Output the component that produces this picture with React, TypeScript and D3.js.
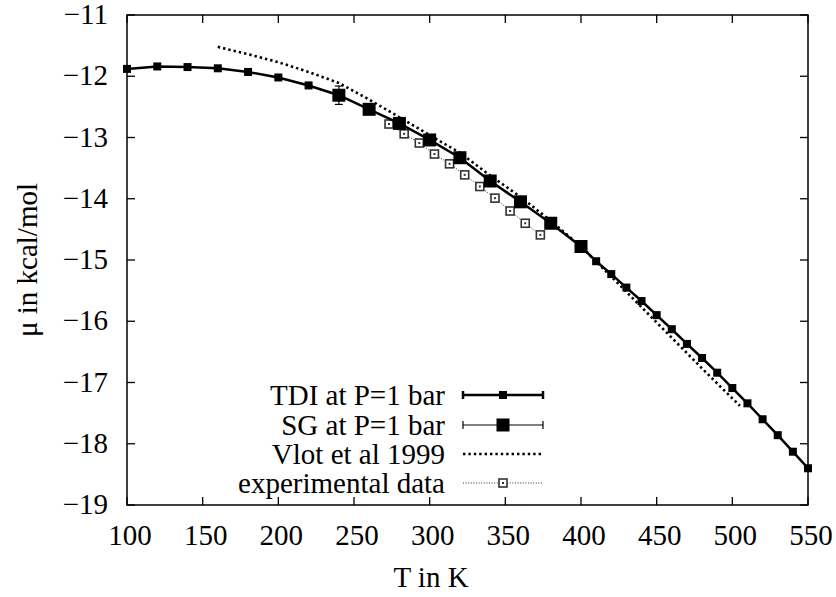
import React from "react";
import * as d3 from "d3";

const tdiT = [100,120,140,160,180,200,220,240,260,280,300,320,340,360,380,400,410,420,430,440,450,460,470,480,490,500,510,520,530,540,550];
const tdiMu = [-11.88,-11.84,-11.85,-11.87,-11.93,-12.02,-12.15,-12.31,-12.54,-12.77,-13.04,-13.33,-13.71,-14.05,-14.40,-14.78,-15.02,-15.23,-15.45,-15.67,-15.90,-16.13,-16.37,-16.60,-16.84,-17.09,-17.34,-17.60,-17.86,-18.13,-18.40];
const tdiShownT = [100,120,140,160,180,200,220,410,420,430,440,450,460,470,480,490,500,510,520,530,540,550];

const sgT = [240,260,280,300,320,340,360,380,400];
const sgMu = [-12.31,-12.54,-12.77,-13.04,-13.33,-13.71,-14.05,-14.40,-14.78];
const sgErr = [0.15,0.04,0.04,0.04,0.04,0.04,0.04,0.04,0.04];

const vlotT = [160,180,200,220,240,260,280,300,320,340,360,380,400,420,440,460,480,500,505];
const vlotMu = [-11.52,-11.64,-11.77,-11.93,-12.11,-12.38,-12.67,-12.96,-13.25,-13.62,-13.97,-14.36,-14.78,-15.27,-15.77,-16.27,-16.77,-17.26,-17.38];

const expT = [273.15,283.15,293.15,303.15,313.15,323.15,333.15,343.15,353.15,363.15,373.15];
const expMu = [-12.78,-12.94,-13.09,-13.27,-13.43,-13.61,-13.80,-13.99,-14.20,-14.40,-14.59];

const xTicks = [100,150,200,250,300,350,400,450,500,550];
const yTicks = [-11,-12,-13,-14,-15,-16,-17,-18,-19];

const legendLabels = ["TDI at P=1 bar","SG at P=1 bar","Vlot et al 1999","experimental data"];

const W = 836, H = 597;
const L = 127, R = 808, T = 15, B = 505;
const FONT = "Liberation Serif, Times New Roman, DejaVu Serif, serif";
const ts: React.CSSProperties = { fontFamily: FONT, fontSize: "29px" };

export default function App() {
  const x = d3.scaleLinear().domain([100, 550]).range([L, R]);
  const y = d3.scaleLinear().domain([-19, -11]).range([B, T]);
  const line = d3.line<[number, number]>().x(d => x(d[0])).y(d => y(d[1]));

  const tdiPts: [number, number][] = tdiT.map((t, i) => [t, tdiMu[i]]);
  const vlotPts: [number, number][] = vlotT.map((t, i) => [t, vlotMu[i]]);
  const expPts: [number, number][] = expT.map((t, i) => [t, expMu[i]]);

  const fmt = (v: number) => (v < 0 ? "\u2212" + Math.abs(v) : String(v));

  const legX0 = 463, legX1 = 543, legXm = 503, legTextX = 445;
  const legY = [395, 425, 454, 483];

  return (
    <svg width={W} height={H} style={{ position: "absolute", left: 0, top: 0, background: "#fff" }}>
      <rect x={0} y={0} width={W} height={H} fill="#fff" />
      <rect x={L} y={T} width={R - L} height={B - T} fill="none" stroke="#000" strokeWidth={1.5} />
      {xTicks.map(t => (
        <g key={"xt" + t}>
          <line x1={x(t)} x2={x(t)} y1={B} y2={B - 8} stroke="#000" strokeWidth={1.3} />
          <line x1={x(t)} x2={x(t)} y1={T} y2={T + 8} stroke="#000" strokeWidth={1.3} />
          <text x={x(t) + 3} y={B + 40} style={ts} textAnchor="middle">{t}</text>
        </g>
      ))}
      {yTicks.map(v => (
        <g key={"yt" + v}>
          <line x1={L} x2={L + 8} y1={y(v)} y2={y(v)} stroke="#000" strokeWidth={1.3} />
          <line x1={R} x2={R - 8} y1={y(v)} y2={y(v)} stroke="#000" strokeWidth={1.3} />
          <text x={L - 19} y={y(v) + 9} style={ts} textAnchor="end">{fmt(v)}</text>
        </g>
      ))}
      <text x={431} y={587} style={ts} textAnchor="middle">T in K</text>
      <text transform={`translate(37,260) rotate(-90)`} style={ts} textAnchor="middle">μ in kcal/mol</text>

      <path d={line(expPts) || ""} fill="none" stroke="#333" strokeWidth={1} strokeDasharray="1,1.6" />
      {expPts.map((p, i) => (
        <g key={"ex" + i}>
          <rect x={x(p[0]) - 4} y={y(p[1]) - 4} width={8} height={8} fill="#fff" stroke="#333" strokeWidth={1.6} />
          <rect x={x(p[0]) - 1} y={y(p[1]) - 1} width={2} height={2} fill="#333" />
        </g>
      ))}

      <path d={line(vlotPts) || ""} fill="none" stroke="#000" strokeWidth={2.6} strokeDasharray="2.4,3" />

      <path d={line(tdiPts) || ""} fill="none" stroke="#000" strokeWidth={2.5} />
      {tdiShownT.map(t => {
        const i = tdiT.indexOf(t);
        return <rect key={"td" + t} x={x(t) - 4} y={y(tdiMu[i]) - 4} width={8} height={8} fill="#000" />;
      })}

      {sgT.map((t, i) => (
        <g key={"sg" + t}>
          <line x1={x(t)} x2={x(t)} y1={y(sgMu[i] + sgErr[i])} y2={y(sgMu[i] - sgErr[i])} stroke="#000" strokeWidth={1.2} />
          <line x1={x(t) - 4} x2={x(t) + 4} y1={y(sgMu[i] + sgErr[i])} y2={y(sgMu[i] + sgErr[i])} stroke="#000" strokeWidth={1.2} />
          <line x1={x(t) - 4} x2={x(t) + 4} y1={y(sgMu[i] - sgErr[i])} y2={y(sgMu[i] - sgErr[i])} stroke="#000" strokeWidth={1.2} />
          <rect x={x(t) - 6.5} y={y(sgMu[i]) - 6.5} width={13} height={13} fill="#000" />
        </g>
      ))}

      {legendLabels.map((lab, i) => (
        <text key={"lg" + i} x={legTextX} y={legY[i] + 10} style={ts} textAnchor="end">{lab}</text>
      ))}
      <g>
        <line x1={legX0} x2={legX1} y1={legY[0]} y2={legY[0]} stroke="#000" strokeWidth={2.5} />
        <line x1={legX0} x2={legX0} y1={legY[0] - 4} y2={legY[0] + 4} stroke="#000" strokeWidth={2.5} />
        <line x1={legX1} x2={legX1} y1={legY[0] - 4} y2={legY[0] + 4} stroke="#000" strokeWidth={2.5} />
        <rect x={legXm - 4} y={legY[0] - 4} width={8} height={8} fill="#000" />
      </g>
      <g>
        <line x1={legX0} x2={legX1} y1={legY[1]} y2={legY[1]} stroke="#000" strokeWidth={1.2} />
        <line x1={legX0} x2={legX0} y1={legY[1] - 4} y2={legY[1] + 4} stroke="#000" strokeWidth={1.2} />
        <line x1={legX1} x2={legX1} y1={legY[1] - 4} y2={legY[1] + 4} stroke="#000" strokeWidth={1.2} />
        <rect x={legXm - 6.5} y={legY[1] - 6.5} width={13} height={13} fill="#000" />
      </g>
      <line x1={legX0} x2={legX1} y1={legY[2]} y2={legY[2]} stroke="#000" strokeWidth={2.6} strokeDasharray="2.4,3" />
      <g>
        <line x1={legX0} x2={legX1} y1={legY[3]} y2={legY[3]} stroke="#333" strokeWidth={1} strokeDasharray="1,1.6" />
        <rect x={legXm - 4} y={legY[3] - 4} width={8} height={8} fill="#fff" stroke="#333" strokeWidth={1.6} />
        <rect x={legXm - 1} y={legY[3] - 1} width={2} height={2} fill="#333" />
      </g>
    </svg>
  );
}
